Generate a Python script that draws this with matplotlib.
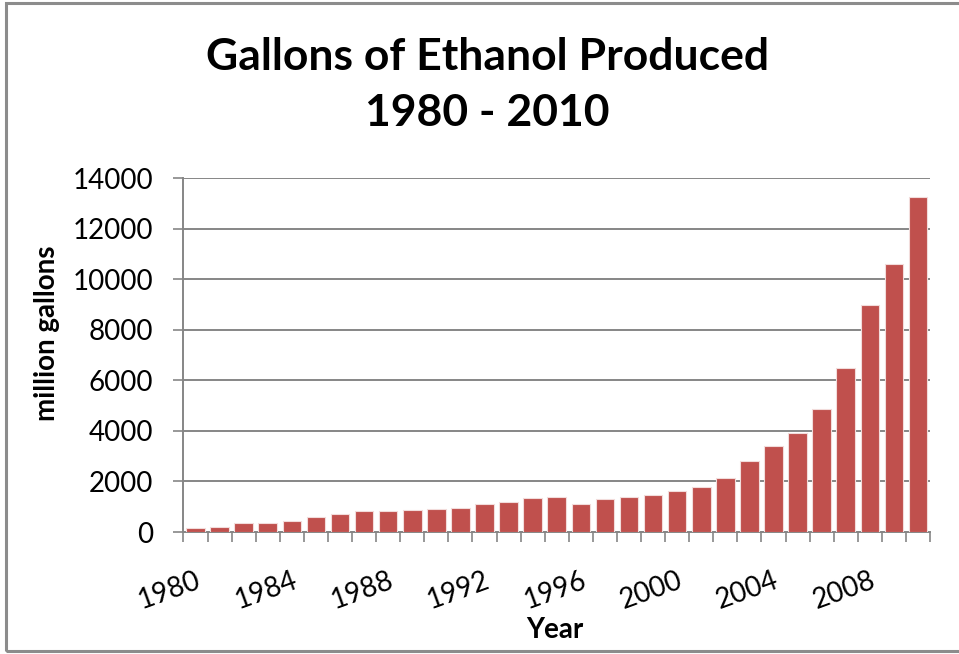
import matplotlib.pyplot as plt
from matplotlib.ticker import FixedLocator

# million gallons per year
years = list(range(1980, 2011))
gallons = [175, 215, 350, 375, 430, 610, 710, 830, 845, 870,
           900, 950, 1100, 1200, 1350, 1400, 1100, 1300, 1400, 1470,
           1630, 1770, 2130, 2800, 3400, 3900, 4860, 6490, 8980, 10600,
           13250]
label_years = [1980, 1984, 1988, 1992, 1996, 2000, 2004, 2008]
y_ticks = [0, 2000, 4000, 6000, 8000, 10000, 12000, 14000]

plt.rcParams['font.family'] = ['Lato', 'DejaVu Sans']
grey = "#868686"

fig = plt.figure(figsize=(9.59, 6.54), dpi=100)
ax = fig.add_axes([0.1913, 0.1865, 0.7785, 0.5413])

ax.bar(years, gallons, width=0.77, color="#C0504D",
       edgecolor="#F2DCDB", linewidth=0.8, zorder=3)

ax.set_xlim(years[0] - 0.5, years[-1] + 0.5)
ax.set_ylim(0, 14000)
ax.set_yticks(y_ticks)
ax.yaxis.grid(True, color=grey, linewidth=1.4, zorder=0)

ax.set_xticks(label_years)
ax.set_xticklabels([str(y) for y in label_years], rotation=20,
                   ha="right", rotation_mode="anchor", fontsize=20)
ax.xaxis.set_minor_locator(FixedLocator([y - 0.5 for y in years] + [years[-1] + 0.5]))
ax.tick_params(axis="x", which="major", length=0, pad=25)
ax.tick_params(axis="x", which="minor", length=7, width=1.2, color=grey)
ax.tick_params(axis="y", length=7, width=1.2, color=grey, labelsize=20, pad=15)

for side in ["top", "right"]:
    ax.spines[side].set_visible(False)
for side in ["left", "bottom"]:
    ax.spines[side].set_color(grey)
    ax.spines[side].set_linewidth(1.4)

fig.text(0.508, 0.913, "Gallons of Ethanol Produced", ha="center", va="center",
         fontsize=32, fontweight="bold")
fig.text(0.508, 0.827, "1980 - 2010", ha="center", va="center",
         fontsize=32, fontweight="bold")
fig.text(0.049, 0.491, "million gallons", rotation=90, ha="center", va="center",
         fontsize=20, fontweight="bold")
fig.text(0.579, 0.037, "Year", ha="center", va="center",
         fontsize=20, fontweight="bold")

# chart border
border = plt.Rectangle((0.006, 0.004), 1.2, 0.991, transform=fig.transFigure,
                       fill=False, edgecolor="#8C8C8C", linewidth=2.2)
fig.patches.append(border)

fig.savefig("out.png", dpi=100)
